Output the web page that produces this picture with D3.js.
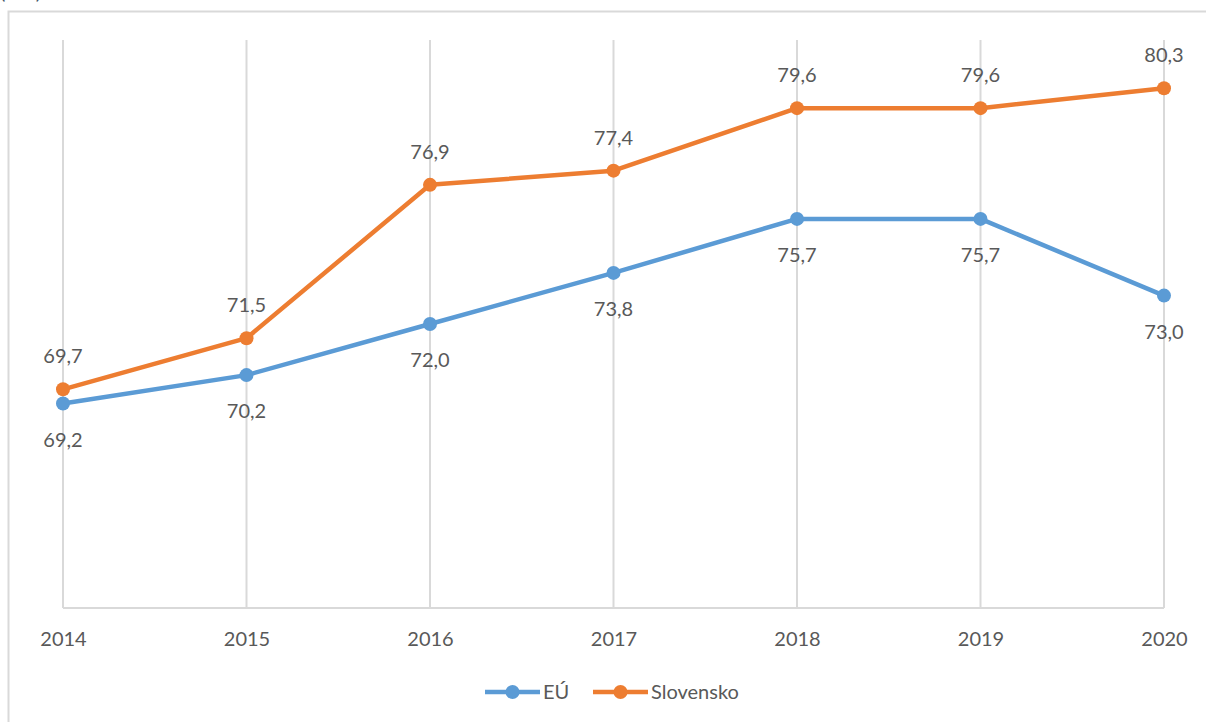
<!DOCTYPE html>
<meta charset="utf-8">
<style>
  body { margin: 0; background: #fff; }
  text { font-family: Lato, "Open Sans", sans-serif; fill: #595959; }
</style>
<body>
<script src="https://d3js.org/d3.v7.min.js"></script>
<script>

var years = ["2014", "2015", "2016", "2017", "2018", "2019", "2020"];
var eu = [69.2, 70.2, 72.0, 73.8, 75.7, 75.7, 73.0];
var sk = [69.7, 71.5, 76.9, 77.4, 79.6, 79.6, 80.3];
var seriesNames = ["EÚ", "Slovensko"];
var colors = ["#5B9BD5", "#ED7D31"];

var W = 1206, H = 722;

var svg = d3.select("body").append("svg")
    .attr("width", W)
    .attr("height", H);

// cut-off title remnant above the chart frame
svg.append("text")
    .attr("x", 0).attr("y", -1)
    .style("font-size", "20px")
    .style("fill", "#44546A")
    .text("(v %)");

// chart frame (runs off the right and bottom edges)
svg.append("rect")
    .attr("x", 8.5).attr("y", 11.5)
    .attr("width", 1300).attr("height", 800)
    .attr("fill", "none")
    .attr("stroke", "#D9D9D9")
    .attr("stroke-width", 2);

var x = d3.scalePoint()
    .domain(years)
    .range([63, 1164]);

var y = d3.scaleLinear()
    .domain([62, 82])
    .range([608, 40]);

// vertical gridlines
svg.append("g")
  .selectAll("line")
  .data(years)
  .join("line")
    .attr("x1", d => x(d)).attr("x2", d => x(d))
    .attr("y1", y(82)).attr("y2", y(62))
    .attr("stroke", "#D9D9D9")
    .attr("stroke-width", 2);

// x axis
var gX = svg.append("g")
    .attr("transform", "translate(0," + y(62) + ")")
    .call(d3.axisBottom(x).tickSize(0).tickPadding(24));
gX.select(".domain")
    .attr("stroke", "#D9D9D9")
    .attr("stroke-width", 2)
    .attr("d", "M" + x(years[0]) + ",0H" + x(years[6]));
gX.selectAll("text")
    .style("font-size", "20px")
    .style("font-family", "Lato, 'Open Sans', sans-serif")
    .attr("fill", "#595959");

var line = d3.line()
    .x((d, i) => x(years[i]))
    .y(d => y(d));

var series = [eu, sk];

series.forEach(function (s, k) {
  svg.append("path")
      .datum(s)
      .attr("d", line)
      .attr("fill", "none")
      .attr("stroke", colors[k])
      .attr("stroke-width", 4.5)
      .attr("stroke-linejoin", "round");

  svg.append("g")
    .selectAll("circle")
    .data(s)
    .join("circle")
      .attr("cx", (d, i) => x(years[i]))
      .attr("cy", d => y(d))
      .attr("r", 7)
      .attr("fill", colors[k]);

  svg.append("g")
    .selectAll("text")
    .data(s)
    .join("text")
      .attr("x", (d, i) => x(years[i]))
      .attr("y", d => k === 0 ? y(d) + 43 : y(d) - 26)
      .attr("text-anchor", "middle")
      .style("font-size", "20px")
      .text(d => d.toFixed(1).replace(".", ","));
});

// legend
var legend = svg.append("g")
    .attr("transform", "translate(485,692)");
var lx = [0, 108];
seriesNames.forEach(function (name, k) {
  var g = legend.append("g").attr("transform", "translate(" + lx[k] + ",0)");
  g.append("line")
      .attr("x1", 0).attr("x2", 55)
      .attr("stroke", colors[k])
      .attr("stroke-width", 4.5);
  g.append("circle")
      .attr("cx", 27.5).attr("r", 7)
      .attr("fill", colors[k]);
  g.append("text")
      .attr("x", 58).attr("y", 7)
      .style("font-size", "20px")
      .text(name);
});

</script>
</body>
